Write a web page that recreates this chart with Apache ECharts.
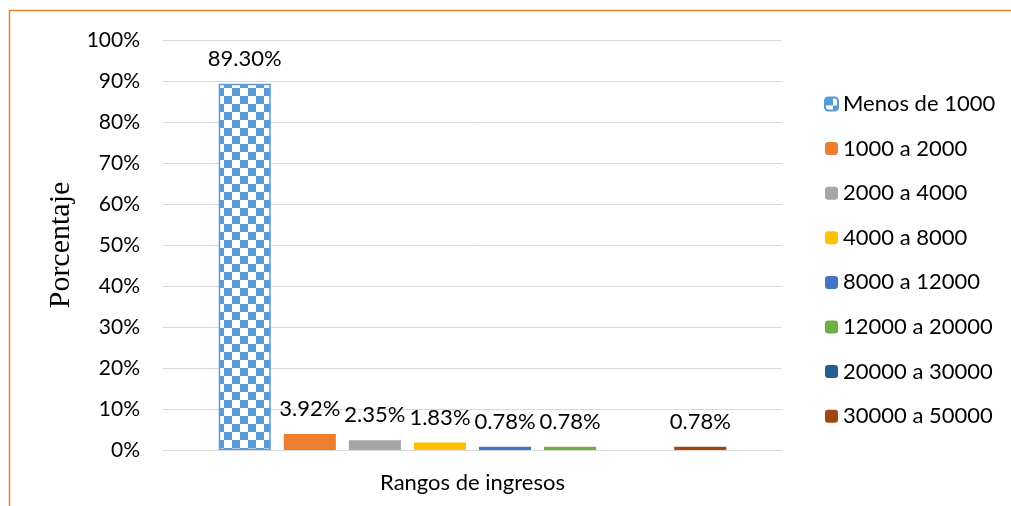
<!DOCTYPE html>
<html>
<head>
<meta charset="utf-8">
<script src="https://cdn.jsdelivr.net/npm/echarts@6/dist/echarts.min.js"></script>
<style>
html,body{margin:0;padding:0;background:#fff;}
#c{width:1011px;height:506px;}
</style>
</head>
<body>
<div id="c"></div>
<script>
var categories = ['Rangos de ingresos'];
var seriesNames = ['Menos de 1000','1000 a 2000','2000 a 4000','4000 a 8000','8000 a 12000','12000 a 20000','20000 a 30000','30000 a 50000'];
var seriesValues = [89.30, 3.92, 2.35, 1.83, 0.78, 0.78, 0, 0.78];
var yTicks = [0,10,20,30,40,50,60,70,80,90,100];
var colors = ['#5b9bd5','#ed7d31','#a5a5a5','#ffc000','#4472c4','#70ad47','#255e91','#9e480e'];

var pc = document.createElement('canvas');
pc.width = 16; pc.height = 16;
var ctx = pc.getContext('2d');
ctx.fillStyle = '#ffffff'; ctx.fillRect(0,0,16,16);
ctx.fillStyle = '#5b9bd5';
ctx.fillRect(0,0,8,8); ctx.fillRect(8,8,8,8);

var FONT = 'Lato';
var chart = echarts.init(document.getElementById('c'), null, {renderer:'canvas'});
var series = seriesNames.map(function(n,i){
  var style = i === 0
    ? {color:{image:pc, repeat:'repeat'}, borderColor:'#5b9bd5', borderWidth:1.5}
    : {color:colors[i]};
  return {
    name:n, type:'bar', data:[seriesValues[i]],
    barGap:'25%', barCategoryGap:'18%',
    itemStyle:style,
    label:{show:true, position:'top', distance:14, color:'#000', fontFamily:FONT, fontSize:22,
      formatter:function(p){ return p.value ? p.value.toFixed(2)+'%' : ''; }}
  };
});
chart.setOption({
  animation:false,
  color:colors,
  grid:{left:163, right:229, top:40, bottom:56},
  graphic:[{type:'rect', shape:{x:9.5,y:10.5,width:1100,height:700}, style:{fill:'none', stroke:'#ed7d31', lineWidth:1.5}, silent:true}],
  legend:{
    orient:'vertical', left:819, top:88,
    itemWidth:13, itemHeight:13, itemGap:22.6,
    textStyle:{fontFamily:FONT, fontSize:22, color:'#000', lineHeight:20},
    data:seriesNames
  },
  xAxis:{
    type:'category', data:categories,
    axisLine:{lineStyle:{color:'#d9d9d9', width:1}},
    axisTick:{show:false},
    axisLabel:{fontFamily:FONT, fontSize:22, color:'#000', margin:22}
  },
  yAxis:{
    type:'value', min:yTicks[0], max:yTicks[yTicks.length-1], interval:10,
    name:'Porcentaje', nameLocation:'middle', nameGap:86,
    nameTextStyle:{fontFamily:'Liberation Serif', fontSize:30, color:'#000'},
    axisLine:{show:false}, axisTick:{show:false},
    axisLabel:{formatter:'{value}%', fontFamily:FONT, fontSize:21, color:'#000', margin:23},
    splitLine:{lineStyle:{color:'#d9d9d9', width:1}}
  },
  series:series
});
</script>
</body>
</html>
